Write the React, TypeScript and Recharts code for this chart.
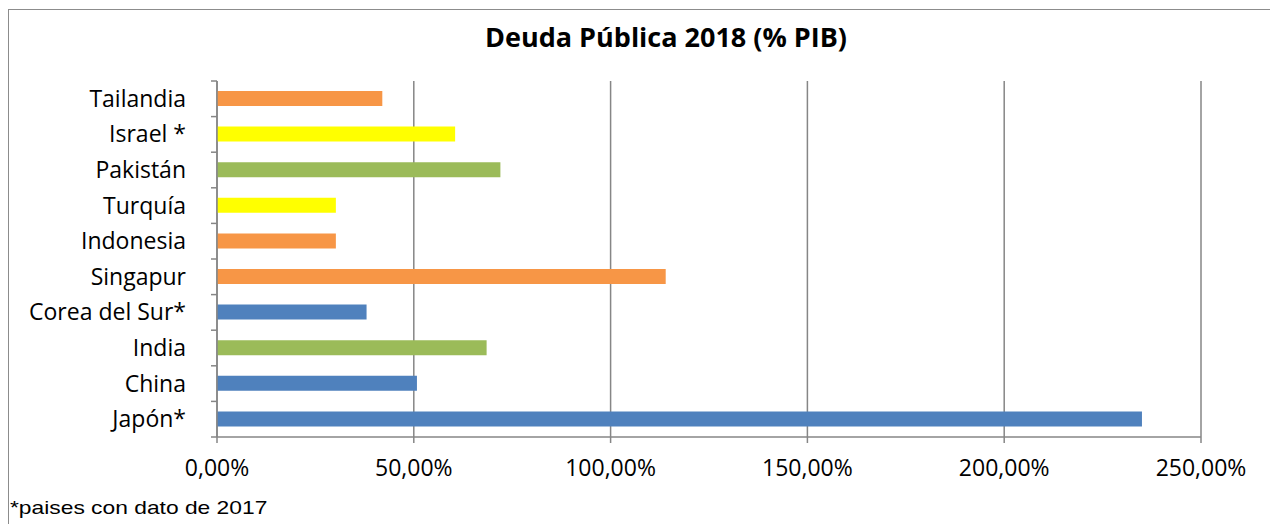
import { BarChart, Bar, XAxis, YAxis, CartesianGrid, Cell } from "recharts"

const countries = [
  "Tailandia",
  "Israel *",
  "Pakistán",
  "Turquía",
  "Indonesia",
  "Singapur",
  "Corea del Sur*",
  "India",
  "China",
  "Japón*",
]
const debt = [42.0, 60.5, 72.0, 30.2, 30.2, 114.0, 38.0, 68.5, 50.8, 235.0]
const barColors = [
  "#F79646",
  "#FFFF00",
  "#9BBB59",
  "#FFFF00",
  "#F79646",
  "#F79646",
  "#4F81BD",
  "#9BBB59",
  "#4F81BD",
  "#4F81BD",
]
const xTicks = [0, 50, 100, 150, 200, 250]

const data = countries.map((name, i) => ({ name, value: debt[i], color: barColors[i] }))

const AXIS = "#868686"
const FONT = "'Open Sans', Lato, sans-serif"
const BAND = 35.6

const fmt = (v: number) => v.toFixed(2).replace(".", ",") + "%"

function CategoryTick(props: any) {
  const { x, y, payload, index } = props
  return (
    <g>
      <text x={x - 31} y={y} dy={8} textAnchor="end" fontSize={23} fill="#000" fontFamily={FONT}>
        {payload.value}
      </text>
      <line x1={x - 6} x2={x} y1={y - BAND / 2} y2={y - BAND / 2} stroke={AXIS} strokeWidth={1.5} />
      {index === countries.length - 1 && (
        <line x1={x - 6} x2={x} y1={y + BAND / 2} y2={y + BAND / 2} stroke={AXIS} strokeWidth={1.5} />
      )}
    </g>
  )
}

export default function App() {
  return (
    <div
      style={{
        position: "relative",
        width: 1268,
        height: 514,
        border: "1px solid #8c8c8c",
        marginTop: 1,
        background: "#fff",
      }}
    >
      <div
        style={{
          position: "absolute",
          left: 407,
          width: 500,
          top: 8,
          textAlign: "center",
          fontFamily: FONT,
          fontWeight: 700,
          fontSize: 27,
          color: "#000",
        }}
      >
        Deuda Pública 2018 (% PIB)
      </div>
      <BarChart
        width={1268}
        height={514}
        layout="vertical"
        data={data}
        margin={{ top: 71, right: 76, left: 0, bottom: 47 }}
        barSize={15}
      >
        <CartesianGrid vertical horizontal={false} stroke={AXIS} strokeWidth={1.5} />
        <XAxis
          type="number"
          domain={[0, 250]}
          ticks={xTicks}
          tickFormatter={fmt}
          stroke={AXIS}
          strokeWidth={1.5}
          tickSize={6}
          tickMargin={17}
          height={40}
          tick={{ fill: "#000", fontSize: 23, fontFamily: FONT }}
        />
        <YAxis
          type="category"
          dataKey="name"
          width={208}
          stroke={AXIS}
          strokeWidth={1.5}
          tickLine={false}
          tickSize={0}
          tickMargin={0}
          tick={<CategoryTick />}
          interval={0}
        />
        <Bar dataKey="value" isAnimationActive={false}>
          {data.map((d) => (
            <Cell key={d.name} fill={d.color} />
          ))}
        </Bar>
      </BarChart>
      <div
        style={{
          position: "absolute",
          left: 1,
          top: 487,
          fontFamily: "'Liberation Sans', Arial, sans-serif",
          fontSize: 19,
          color: "#000",
          transform: "scaleX(1.2)",
          transformOrigin: "left center",
          whiteSpace: "nowrap",
        }}
      >
        *paises con dato de 2017
      </div>
    </div>
  )
}
